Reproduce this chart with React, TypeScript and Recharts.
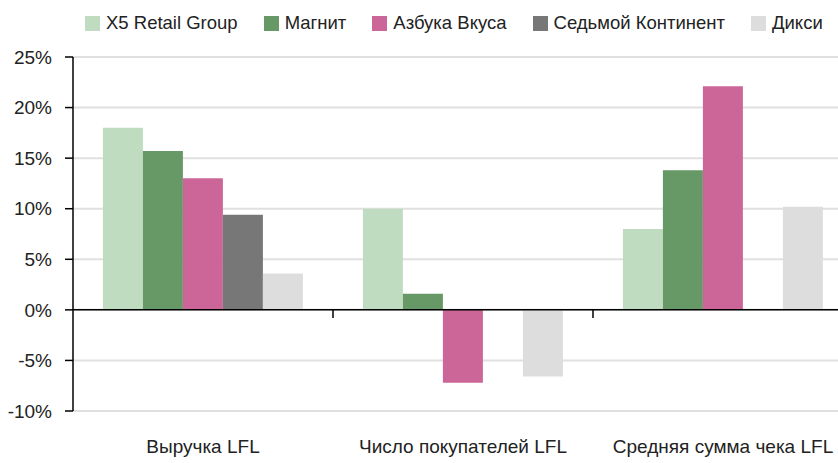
import React from "react";
import {
    BarChart,
    Bar,
    XAxis,
    YAxis,
    CartesianGrid,
    Legend,
    ReferenceLine,
} from "recharts";

const categories = ["Выручка LFL", "Число покупателей LFL", "Средняя сумма чека LFL"];
const x5 = [18, 10, 8];
const magnit = [15.7, 1.6, 13.8];
const azbuka = [13, -7.2, 22.1];
const sedmoy = [9.4, null, null];
const diksi = [3.6, -6.6, 10.2];
const yTicks = [-10, -5, 0, 5, 10, 15, 20, 25];

const series = [
    { key: "x5", name: "X5 Retail Group", color: "#c0dcc0" },
    { key: "magnit", name: "Магнит", color: "#669966" },
    { key: "azbuka", name: "Азбука Вкуса", color: "#cc6699" },
    { key: "sedmoy", name: "Седьмой Континент", color: "#777777" },
    { key: "diksi", name: "Дикси", color: "#dddddd" },
];

const data = categories.map((name, i) => ({
    name,
    x5: x5[i],
    magnit: magnit[i],
    azbuka: azbuka[i],
    sedmoy: sedmoy[i],
    diksi: diksi[i],
}));

const font = "'Liberation Sans', Arial, sans-serif";

const LegendBox = () => (
    <div style={{ height: 42, display: "flex", alignItems: "flex-start" }}>
        {series.map((s) => (
            <div
                key={s.key}
                style={{
                    display: "flex",
                    alignItems: "center",
                    marginRight: 26,
                    height: 16,
                    fontSize: 18.5,
                    color: "#222",
                    fontFamily: font,
                    whiteSpace: "nowrap",
                }}
            >
                <span
                    style={{
                        display: "inline-block",
                        width: 15,
                        height: 15,
                        background: s.color,
                        marginRight: 6,
                    }}
                />
                {s.name}
            </div>
        ))}
    </div>
);

export default function App() {
    return (
        <div
            style={{
                position: "fixed",
                left: 0,
                top: 0,
                width: 838,
                height: 463,
                overflow: "hidden",
                background: "#fff",
            }}
        >
            <BarChart
                width={860}
                height={463}
                data={data}
                margin={{ top: 15, right: 7, bottom: 0, left: 0 }}
                barCategoryGap="11.5%"
                barGap={0}
                style={{ fontFamily: font }}
            >
                <Legend
                    verticalAlign="top"
                    content={<LegendBox />}
                    wrapperStyle={{ left: 85, top: 15, width: 760 }}
                />
                <CartesianGrid vertical={false} stroke="#e0e0e0" strokeWidth={2} />
                <XAxis
                    dataKey="name"
                    height={52}
                    axisLine={false}
                    tickLine={false}
                    tickSize={0}
                    tickMargin={29}
                    tick={{ fill: "#222", fontSize: 19 }}
                />
                <YAxis
                    width={73}
                    domain={[-10, 25]}
                    ticks={yTicks}
                    tickFormatter={(v) => `${v}%`}
                    axisLine={{ stroke: "#000", strokeWidth: 1.5 }}
                    tickLine={{ stroke: "#000", strokeWidth: 1.5 }}
                    tickSize={8}
                    tickMargin={13}
                    tick={{ fill: "#222", fontSize: 19 }}
                    interval={0}
                />
                {series.map((s) => (
                    <Bar
                        key={s.key}
                        dataKey={s.key}
                        name={s.name}
                        fill={s.color}
                        isAnimationActive={false}
                    />
                ))}
                <ReferenceLine y={0} stroke="#000" strokeWidth={1.5} />
                {categories.slice(1).map((c) => (
                    <ReferenceLine
                        key={c}
                        position="start"
                        segment={[
                            { x: c, y: 0 },
                            { x: c, y: -0.8 },
                        ]}
                        stroke="#000"
                        strokeWidth={1.5}
                    />
                ))}
            </BarChart>
        </div>
    );
}
